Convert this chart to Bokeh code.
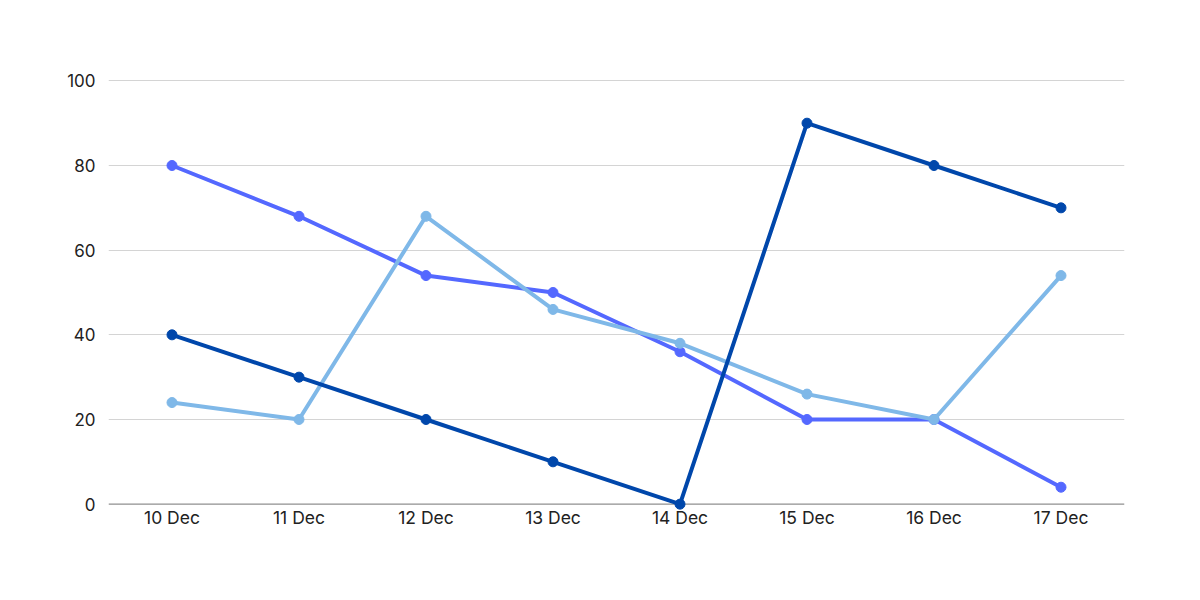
from bokeh.plotting import figure
from bokeh.models import FactorRange, Range1d, FixedTicker, Span, ColumnDataSource
from bokeh.embed import file_html
from bokeh.resources import INLINE

dates = ["10 Dec", "11 Dec", "12 Dec", "13 Dec", "14 Dec", "15 Dec", "16 Dec", "17 Dec"]
series_dark = [40, 30, 20, 10, 0, 90, 80, 70]
series_medium = [80, 68, 54, 50, 36, 20, 20, 4]
series_light = [24, 20, 68, 46, 38, 26, 20, 54]
y_ticks = [0, 20, 40, 60, 80, 100]

FONT = "Inter"

p = figure(width=1200, height=600, output_backend="svg", toolbar_location=None,
           x_range=FactorRange(*dates, range_padding=0),
           y_range=Range1d(-1.5, 101.5))
p.min_border_left = 108
p.min_border_right = 76
p.min_border_top = 74
p.min_border_bottom = 90
p.outline_line_color = None
p.background_fill_color = "white"
p.border_fill_color = "white"

p.xgrid.grid_line_color = None
p.ygrid.ticker = FixedTicker(ticks=[t for t in y_ticks if t > 0])
p.ygrid.grid_line_color = "#d4d4d4"
p.ygrid.grid_line_width = 1

p.yaxis.ticker = FixedTicker(ticks=y_ticks)
p.yaxis.axis_line_color = None
p.yaxis.major_tick_line_color = None
p.yaxis.minor_tick_line_color = None
p.yaxis.major_label_standoff = 7
p.yaxis.major_label_text_font = FONT
p.yaxis.major_label_text_font_size = "17px"
p.yaxis.major_label_text_color = "#222222"

p.xaxis.axis_line_color = None
p.xaxis.major_tick_line_color = None
p.xaxis.minor_tick_line_color = None
p.xaxis.major_label_standoff = -10
p.xaxis.major_label_text_font = FONT
p.xaxis.major_label_text_font_size = "17.5px"
p.xaxis.major_label_text_color = "#222222"

p.add_layout(Span(location=0, dimension="width", line_color="#8f8f8f", line_width=1.3, level="underlay"))

for vals, color in [(series_medium, "#5468FF"), (series_light, "#7FB8E8"), (series_dark, "#0047AB")]:
    src = ColumnDataSource(dict(x=dates, y=vals))
    p.line("x", "y", source=src, line_color=color, line_width=4)
    p.scatter("x", "y", source=src, size=10, fill_color=color, line_color=color)

open("out.html", "w").write(file_html(p, INLINE))
